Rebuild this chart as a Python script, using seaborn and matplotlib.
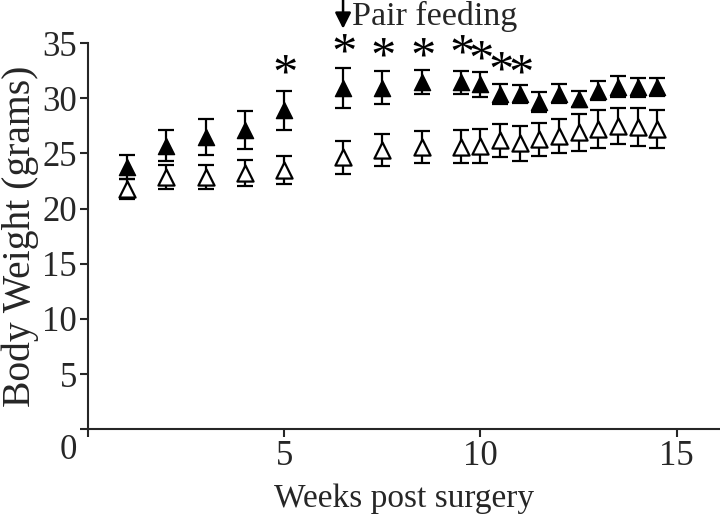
import matplotlib
matplotlib.use("Agg")
import matplotlib.pyplot as plt
import matplotlib.transforms as mtransforms
from matplotlib.path import Path
from matplotlib.textpath import TextPath
from matplotlib.font_manager import FontProperties
import numpy as np
import pandas as pd
import seaborn as sns

# data
weeks = [1, 2, 3, 4, 5, 6.5, 7.5, 8.5, 9.5, 10, 10.5, 11, 11.5, 12, 12.5, 13, 13.5, 14, 14.5]
filled_mean = [23.8, 25.7, 26.5, 27.1, 28.9, 30.95, 30.95, 31.45, 31.45, 31.25, 30.4, 30.4,
               29.65, 30.4, 29.95, 30.7, 31.05, 31.0, 31.0]
filled_err = [1.1, 1.4, 1.6, 1.7, 1.75, 1.8, 1.5, 1.1, 1.05, 1.1, 0.9, 0.8,
              0.9, 0.85, 0.75, 0.9, 0.95, 0.85, 0.8]
open_mean = [21.8, 22.85, 22.85, 23.2, 23.5, 24.65, 25.3, 25.6, 25.6, 25.7, 26.2, 25.9,
             26.3, 26.6, 26.9, 27.2, 27.5, 27.4, 27.2]
open_err = [0.9, 1.1, 1.1, 1.2, 1.25, 1.5, 1.45, 1.45, 1.5, 1.55, 1.5, 1.55,
            1.5, 1.55, 1.65, 1.7, 1.65, 1.75, 1.75]
star_weeks = [5, 6.5, 7.5, 8.5, 9.5, 10, 10.5, 11]
star_y = [32.5, 34.4, 34.0, 34.0, 34.3, 33.7, 32.7, 32.5]
pair_feeding_week = 6.5

sns.set_style("ticks")
plt.rcParams['font.family'] = ['Liberation Serif', 'DejaVu Serif']

fig = plt.figure(figsize=(7.2, 5.19), dpi=100)
ax = fig.add_axes([0.122, 0.173, 0.878, 0.744])

# error bars first, markers on top
ax.errorbar(weeks, open_mean, yerr=open_err, fmt='none', ecolor='black',
            elinewidth=1.6, capsize=5.5, capthick=1.6, zorder=2)
ax.errorbar(weeks, filled_mean, yerr=filled_err, fmt='none', ecolor='black',
            elinewidth=1.6, capsize=5.5, capthick=1.6, zorder=2)

df_open = pd.DataFrame({'week': weeks, 'weight': open_mean})
df_filled = pd.DataFrame({'week': weeks, 'weight': filled_mean})
sns.scatterplot(data=df_open, x='week', y='weight', marker='^', s=135,
                facecolor='white', edgecolor='black', linewidth=1.6, ax=ax, zorder=3)
sns.scatterplot(data=df_filled, x='week', y='weight', marker='^', s=135,
                color='black', edgecolor='black', linewidth=1.0, ax=ax, zorder=3)

# significance asterisks (Times-style glyph as marker)
tp = TextPath((0, 0), "*", prop=FontProperties(family="Liberation Serif"))
v = tp.vertices
star = Path(v - (v.min(0) + v.max(0)) / 2, tp.codes)
sns.scatterplot(x=star_weeks, y=star_y, marker=star, s=560, color='black',
                linewidth=0, ax=ax, zorder=4, clip_on=False)

# pair feeding arrow
ax.annotate('', xy=(pair_feeding_week, 36.3), xytext=(pair_feeding_week, 39.0),
            arrowprops=dict(arrowstyle='-|>', color='black', lw=1.8,
                            mutation_scale=24, shrinkA=0, shrinkB=0),
            annotation_clip=False)
ax.text(pair_feeding_week + 0.24, 36.65, 'Pair feeding', fontsize=24.5,
        ha='left', va='baseline', clip_on=False)

ax.set_xlim(0, 16.1)
ax.set_ylim(0, 35)
ax.set_xticks([0, 5, 10, 15])
ax.set_xticklabels(['', '5', '10', '15'])
ax.set_yticks(np.arange(0, 36, 5))
ax.tick_params(axis='both', labelsize=25, width=1.5, length=6, direction='out', pad=2)

# origin label sits a bit lower than its tick
lbl0 = ax.get_yticklabels()[0]
lbl0.set_transform(lbl0.get_transform() + mtransforms.ScaledTranslation(0, -0.17, fig.dpi_scale_trans))

for s in ['left', 'bottom']:
    ax.spines[s].set_linewidth(1.5)
sns.despine(ax=ax)

ax.set_xlabel('Weeks post surgery', fontsize=24, labelpad=7)
ax.set_ylabel('Body Weight (grams)', fontsize=28.5, labelpad=2)

fig.savefig('out.png', dpi=100)
